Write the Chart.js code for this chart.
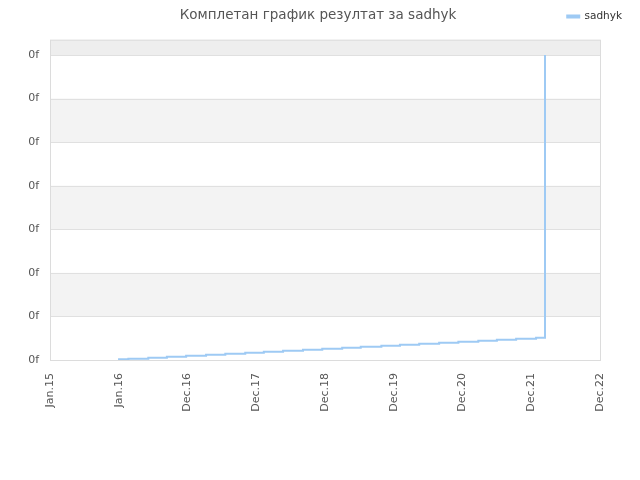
<!DOCTYPE html>
<html>
<head>
<meta charset="utf-8">
<script src="https://cdn.jsdelivr.net/npm/chart.js@4"></script>
<style>
  html, body { margin: 0; padding: 0; background: #fff; }
  #wrap { width: 640px; height: 480px; }
</style>
</head>
<body>
<div id="wrap"><canvas id="chart" width="640" height="480"></canvas></div>
<script>
// Tick labels (x axis is evenly spaced positions 0..8)
const xLabels = ['Jan.15', 'Jan.16', 'Dec.16', 'Dec.17', 'Dec.18', 'Dec.19', 'Dec.20', 'Dec.21', 'Dec.22'];

// Step positions along the x axis and the score held from each one
const stepX = [0.99, 1.14, 1.43, 1.70, 1.98, 2.27, 2.55, 2.84, 3.11, 3.39, 3.68, 3.96,
               4.25, 4.52, 4.82, 5.09, 5.37, 5.66, 5.94, 6.23, 6.50, 6.78, 7.07, 7.20];
const stepY = [0.016, 0.030, 0.053, 0.076, 0.099, 0.122, 0.144, 0.167, 0.190, 0.213, 0.236, 0.259,
               0.282, 0.305, 0.328, 0.351, 0.374, 0.397, 0.420, 0.443, 0.466, 0.489, 0.512, 7.0];

// Alternating bands + frame around the plot
const bands = {
  id: 'bands',
  afterLayout(chart) {
    // title and legend sit on one row, a bit right of the plot's centre
    const l = chart.legend, t = chart.titleBlock;
    l.top -= 8; l.bottom -= 8; l.left += 30; l.right += 30;
    t.left += 18; t.right += 18;
  },
  beforeDatasetsDraw(chart) {
    const { ctx, chartArea: a, scales: { y } } = chart;
    ctx.save();
    const ticks = y.ticks.map(t => y.getPixelForValue(t.value));
    // top strip above the last tick
    ctx.fillStyle = '#eeeeee';
    ctx.fillRect(a.left, a.top, a.right - a.left, ticks[ticks.length - 1] - a.top);
    for (let i = 0; i < ticks.length - 1; i++) {
      if (i % 2 === 1) {
        ctx.fillStyle = '#f3f3f3';
        ctx.fillRect(a.left, ticks[i + 1], a.right - a.left, ticks[i] - ticks[i + 1]);
      }
    }
    ctx.strokeStyle = '#e0e0e0';
    ctx.lineWidth = 1;
    ticks.forEach(p => {
      ctx.beginPath();
      ctx.moveTo(a.left, Math.round(p) + 0.5);
      ctx.lineTo(a.right, Math.round(p) + 0.5);
      ctx.stroke();
    });
    ctx.strokeStyle = '#dcdcdc';
    ctx.strokeRect(a.left + 0.5, a.top + 0.5, a.right - a.left, a.bottom - a.top);
    ctx.restore();
  }
};

new Chart(document.getElementById('chart'), {
  type: 'line',
  data: {
    datasets: [{
      label: 'sadhyk',
      data: stepX.map((x, i) => ({ x, y: stepY[i] })),
      borderColor: '#9ecaf4',
      backgroundColor: '#9ecaf4',
      borderWidth: 2,
      stepped: true,
      pointRadius: 0,
      fill: false
    }]
  },
  options: {
    responsive: false,
    animation: false,
    layout: { padding: { left: 0, right: 40, top: 5, bottom: 0 } },
    plugins: {
      title: {
        display: true,
        text: 'Комплетан график резултат за sadhyk',
        color: '#555',
        font: { family: 'DejaVu Sans', size: 13.5, weight: 'normal' },
        padding: { top: 2, bottom: -12 }
      },
      legend: {
        position: 'top',
        align: 'end',
        labels: {
          color: '#333',
          font: { family: 'DejaVu Sans', size: 10.5 },
          boxWidth: 12,
          boxHeight: 2,
          padding: 8
        }
      },
      tooltip: { enabled: false }
    },
    scales: {
      x: {
        type: 'linear',
        min: 0,
        max: 8,
        ticks: {
          stepSize: 1,
          minRotation: 90,
          maxRotation: 90,
          color: '#555',
          padding: 5,
          font: { family: 'DejaVu Sans', size: 11 },
          callback: v => xLabels[v]
        },
        grid: { display: false },
        border: { display: false },
        afterFit: s => { s.height = 120; }
      },
      y: {
        min: 0,
        max: 7.35,
        ticks: {
          stepSize: 1,
          color: '#555',
          padding: 3,
          font: { family: 'DejaVu Sans', size: 11 },
          callback: () => '0f'
        },
        grid: { display: false },
        border: { display: false },
        afterBuildTicks: s => { s.ticks = s.ticks.filter(t => Number.isInteger(t.value)); },
        afterFit: s => { s.width = 50; }
      }
    }
  },
  plugins: [bands]
});
</script>
</body>
</html>
